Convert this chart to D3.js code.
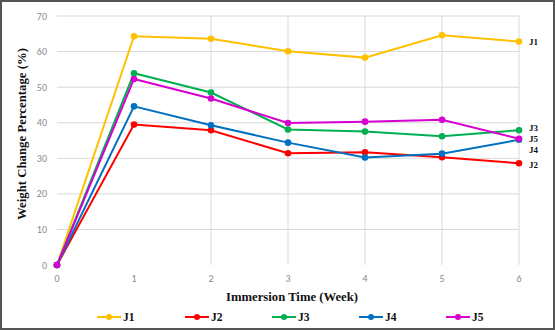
<!DOCTYPE html>
<html>
<head>
<meta charset="utf-8">
<script src="https://cdn.jsdelivr.net/npm/d3@7"></script>
<style>
  html, body { margin: 0; padding: 0; background: #fff; }
</style>
</head>
<body>
<div id="chart"></div>
<script>
const weeks = [0, 1, 2, 3, 4, 5, 6];
const yTicks = [0, 10, 20, 30, 40, 50, 60, 70];
const seriesNames = ['J1', 'J2', 'J3', 'J4', 'J5'];
const seriesColors = ['#FFC000', '#FF0000', '#00B050', '#0070C0', '#D800D0'];
const J1 = [0, 64.3, 63.6, 60.1, 58.3, 64.6, 62.8];
const J2 = [0, 39.5, 37.9, 31.4, 31.7, 30.3, 28.6];
const J3 = [0, 53.9, 48.5, 38.1, 37.5, 36.2, 37.9];
const J4 = [0, 44.6, 39.3, 34.4, 30.2, 31.3, 35.2];
const J5 = [0, 52.3, 46.8, 39.9, 40.3, 40.8, 35.5];
const seriesValues = [J1, J2, J3, J4, J5];

const width = 555, height = 330;
const svg = d3.select('#chart').append('svg')
    .attr('width', width).attr('height', height);

// frame
svg.append('rect')
    .attr('x', 1).attr('y', 1)
    .attr('width', width - 2).attr('height', height - 2)
    .attr('fill', '#fff')
    .attr('stroke', '#555').attr('stroke-width', 2);

const x = d3.scaleLinear().domain([0, 6]).range([57, 519]);
const y = d3.scaleLinear().domain([0, 70]).range([265, 16]);

// grid
svg.append('g').selectAll('line')
    .data(yTicks.filter(d => d > 0))
    .enter().append('line')
    .attr('x1', x(0)).attr('x2', x(6))
    .attr('y1', d => y(d)).attr('y2', d => y(d))
    .attr('stroke', '#d9d9d9').attr('stroke-width', 1);

svg.append('g').selectAll('line')
    .data(weeks.filter(d => d >= 2))
    .enter().append('line')
    .attr('x1', d => x(d)).attr('x2', d => x(d))
    .attr('y1', y(0)).attr('y2', y(70))
    .attr('stroke', '#d9d9d9').attr('stroke-width', 1);

// tick labels
svg.append('g').selectAll('text')
    .data(yTicks)
    .enter().append('text')
    .attr('x', 47).attr('y', d => y(d) + 3.5)
    .attr('text-anchor', 'end')
    .style('font-family', 'Carlito, "Liberation Sans", sans-serif')
    .style('font-size', '10px')
    .attr('fill', '#8a8a8a')
    .text(d => d);

svg.append('g').selectAll('text')
    .data(weeks)
    .enter().append('text')
    .attr('x', d => x(d)).attr('y', 282)
    .attr('text-anchor', 'middle')
    .style('font-family', 'Carlito, "Liberation Sans", sans-serif')
    .style('font-size', '10px')
    .attr('fill', '#8a8a8a')
    .text(d => d);

// axis titles
svg.append('text')
    .attr('x', 292).attr('y', 301)
    .attr('text-anchor', 'middle')
    .style('font-family', '"Liberation Serif", "Times New Roman", serif')
    .style('font-size', '12.7px')
    .attr('font-weight', 'bold')
    .attr('fill', '#111')
    .text('Immersion Time (Week)');

svg.append('text')
    .attr('transform', 'translate(26,134) rotate(-90)')
    .attr('text-anchor', 'middle')
    .style('font-family', '"Liberation Serif", "Times New Roman", serif')
    .style('font-size', '12.8px')
    .attr('font-weight', 'bold')
    .attr('fill', '#111')
    .text('Weight Change Percentage (%)');

// lines
const line = d3.line()
    .x((d, i) => x(weeks[i]))
    .y(d => y(d));

seriesValues.forEach(function (vals, k) {
    const g = svg.append('g');
    g.append('path').datum(vals)
        .attr('fill', 'none')
        .attr('stroke', seriesColors[k])
        .attr('stroke-width', 2)
        .attr('d', line);
    g.selectAll('circle')
        .data(vals)
        .enter().append('circle')
        .attr('cx', (d, i) => x(weeks[i]))
        .attr('cy', d => y(d))
        .attr('r', 3.3)
        .attr('fill', seriesColors[k]);
});

// end labels
const labelY = [42, 165, 128, 150, 139];
svg.append('g').selectAll('text')
    .data(seriesNames)
    .enter().append('text')
    .attr('x', 529)
    .attr('y', (d, i) => labelY[i] + 3)
    .style('font-family', '"Liberation Serif", "Times New Roman", serif')
    .style('font-size', '9px')
    .attr('font-weight', 'bold')
    .attr('fill', '#111')
    .text(d => d);

// legend
const legendX = [97, 185, 272, 359, 446];
const lg = svg.append('g').selectAll('g')
    .data(seriesNames)
    .enter().append('g')
    .attr('transform', (d, i) => 'translate(' + legendX[i] + ',317)');
lg.append('line')
    .attr('x1', 0).attr('x2', 24)
    .attr('stroke', (d, i) => seriesColors[i])
    .attr('stroke-width', 2);
lg.append('circle')
    .attr('cx', 12).attr('r', 3)
    .attr('fill', (d, i) => seriesColors[i]);
lg.append('text')
    .attr('x', 26).attr('y', 4)
    .style('font-family', '"Liberation Serif", "Times New Roman", serif')
    .style('font-size', '11.5px')
    .attr('font-weight', 'bold')
    .attr('fill', '#111')
    .text(d => d);
</script>
</body>
</html>
